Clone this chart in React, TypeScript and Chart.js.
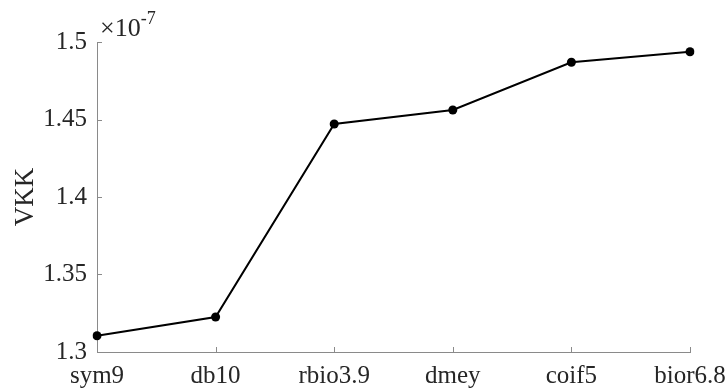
import React, { useEffect, useRef } from "react";
import { Chart, registerables } from "chart.js";

Chart.register(...registerables);

const categories = ["sym9", "db10", "rbio3.9", "dmey", "coif5", "bior6.8"];
const vkkValues = [1.3105, 1.3226, 1.4471, 1.4561, 1.4869, 1.4937];
const yTickValues = [1.3, 1.35, 1.4, 1.45, 1.5];
const yAxisTitle = "VKK";
const exponentBase = "×10";
const exponentPower = "-7";

const FONT = "'Liberation Serif'";
const AXIS_COLOR = "#8a8a8a";
const TEXT_COLOR = "#262626";

const inwardTicks = {
  id: "inwardTicks",
  afterDraw(chart: any) {
    const { ctx, chartArea, scales } = chart;
    ctx.save();
    ctx.strokeStyle = AXIS_COLOR;
    ctx.lineWidth = 1;
    const x = scales.x;
    const y = scales.y;
    x.ticks.forEach((_t: any, i: number) => {
      const px = Math.round(x.getPixelForTick(i)) + 0.5;
      ctx.beginPath();
      ctx.moveTo(px, chartArea.bottom);
      ctx.lineTo(px, chartArea.bottom - 5);
      ctx.stroke();
    });
    y.ticks.forEach((_t: any, i: number) => {
      const py = Math.round(y.getPixelForTick(i)) + 0.5;
      ctx.beginPath();
      ctx.moveTo(chartArea.left, py);
      ctx.lineTo(chartArea.left + 5, py);
      ctx.stroke();
    });
    ctx.fillStyle = TEXT_COLOR;
    ctx.textBaseline = "alphabetic";
    ctx.textAlign = "left";
    ctx.font = `26px ${FONT}`;
    const bx = chartArea.left + 3;
    const by = chartArea.top - 6;
    ctx.fillText(exponentBase, bx, by);
    const w = ctx.measureText(exponentBase).width;
    ctx.font = `18px ${FONT}`;
    ctx.fillText(exponentPower, bx + w, by - 12);
    ctx.restore();
  },
};

export default function App() {
  const ref = useRef<HTMLCanvasElement | null>(null);
  useEffect(() => {
    document.body.style.margin = "0";
    let chart: Chart | null = null;
    let cancelled = false;
    const build = () => {
      if (cancelled || !ref.current) return;
      chart = new Chart(ref.current, {
        type: "line",
        data: {
          labels: categories,
          datasets: [
            {
              data: vkkValues,
              borderColor: "#000000",
              backgroundColor: "#000000",
              borderWidth: 2,
              pointRadius: 4.5,
              pointBackgroundColor: "#000000",
              pointBorderWidth: 0,
              tension: 0,
            },
          ],
        },
        options: {
          animation: false,
          responsive: false,
          maintainAspectRatio: false,
          layout: { padding: { top: 42, right: 36, left: 0, bottom: 0 } },
          plugins: { legend: { display: false }, tooltip: { enabled: false } },
          scales: {
            x: {
              type: "category",
              offset: false,
              border: { display: true, color: AXIS_COLOR, width: 1 },
              grid: { display: true, drawOnChartArea: false, drawTicks: false },
              ticks: {
                color: TEXT_COLOR,
                font: { family: FONT, size: 25 },
                padding: 9,
                maxRotation: 0,
                autoSkip: false,
              },
              afterFit(scale: any) {
                scale.height = 38;
                scale.paddingLeft = 0;
                scale.paddingRight = 0;
              },
            },
            y: {
              min: 1.3,
              max: 1.5,
              afterBuildTicks(scale: any) {
                scale.ticks = yTickValues.map((v) => ({ value: v }));
              },
              border: { display: true, color: AXIS_COLOR, width: 1 },
              grid: { display: true, drawOnChartArea: false, drawTicks: false },
              ticks: {
                color: TEXT_COLOR,
                font: { family: FONT, size: 25 },
                padding: 10,
                callback: (v: any) => String(parseFloat(Number(v).toFixed(2))),
              },
              title: {
                display: true,
                text: yAxisTitle,
                color: TEXT_COLOR,
                font: { family: FONT, size: 27 },
                padding: { top: 10, bottom: 0 },
              },
              afterFit(scale: any) {
                scale.width = 97;
                scale.paddingTop = 0;
                scale.paddingBottom = 0;
              },
            },
          },
        },
        plugins: [inwardTicks],
      });
    };
    const fonts: any = (document as any).fonts;
    if (fonts && fonts.load) {
      Promise.all([
        fonts.load(`25px ${FONT}`),
        fonts.load(`18px ${FONT}`),
      ]).then(build, build);
    } else {
      build();
    }
    return () => {
      cancelled = true;
      if (chart) chart.destroy();
    };
  }, []);
  return <canvas ref={ref} width={726} height={390} style={{ display: "block" }} />;
}
